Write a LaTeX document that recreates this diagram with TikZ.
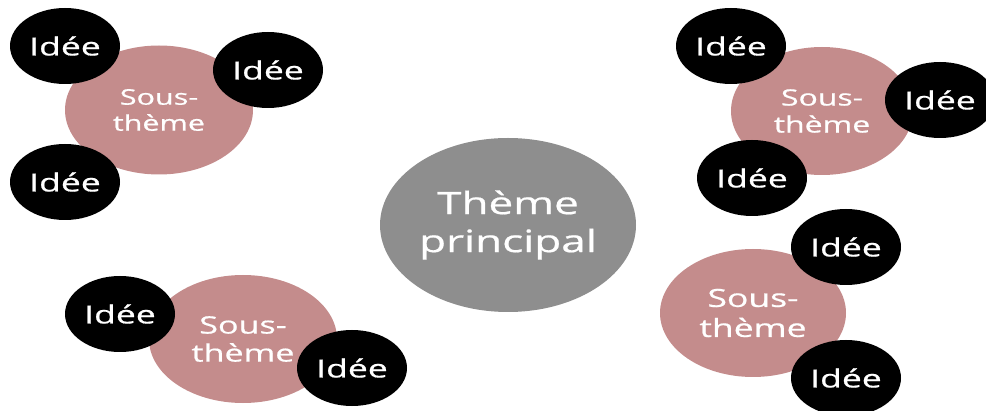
\documentclass[tikz,border=0pt]{standalone}
\usepackage{fontspec}
\setmainfont{Open Sans}[FakeBold=0.6]
\usetikzlibrary{shapes.geometric}
\definecolor{themegray}{HTML}{8E8E8E}
\definecolor{subpink}{HTML}{C48C8C}
% horizontal stretch shared by all labels
\newcommand\wide[1]{\scalebox{1.42}[1]{#1}}
\tikzset{
  bubble/.style={ellipse, inner sep=0pt, text=white, align=center},
  mainbubble/.style={bubble, fill=themegray, minimum width=256pt, minimum height=174pt,
    font=\fontsize{31}{38}\selectfont},
  subbubble/.style={bubble, fill=subpink, minimum width=188pt, minimum height=129pt,
    font=\fontsize{21.5}{26}\selectfont},
  ideabubble/.style={bubble, fill=black, minimum width=110pt, minimum height=76pt,
    font=\fontsize{25}{28}\selectfont},
}
\begin{document}
\begin{tikzpicture}[x=1pt,y=1pt]
  \useasboundingbox (0,0) rectangle (986,410);

  % central theme
  \node[mainbubble] (main) at (508,185) {\wide{Thème}\\\wide{principal}};

  % sub-themes
  \node[subbubble] (st1) at (159,300) {\wide{Sous-}\\\wide{thème}};
  \node[subbubble, minimum width=182pt, minimum height=128pt,
    font=\fontsize{22.5}{27}\selectfont] (st2) at (822,299) {\wide{Sous-}\\\wide{thème}};
  \node[subbubble, minimum height=128pt,
    font=\fontsize{24}{28}\selectfont] (st3) at (243,71) {\wide{Sous-}\\\wide{thème}};
  \node[subbubble, minimum width=186pt, minimum height=128pt,
    font=\fontsize{25}{30}\selectfont] (st4) at (753,97) {\wide{Sous-}\\\wide{thème}};

  % ideas around each sub-theme
  \node[ideabubble] (i11) at (65,364) {\wide{Idée}};
  \node[ideabubble] (i12) at (268,340) {\wide{Idée}};
  \node[ideabubble] (i13) at (65,228) {\wide{Idée}};

  \node[ideabubble] (i21) at (731,364) {\wide{Idée}};
  \node[ideabubble] (i22) at (940,310) {\wide{Idée}};
  \node[ideabubble] (i23) at (752,232) {\wide{Idée}};

  \node[ideabubble] (i31) at (120,96) {\wide{Idée}};
  \node[ideabubble] (i32) at (352,42) {\wide{Idée}};

  \node[ideabubble] (i41) at (846,163) {\wide{Idée}};
  \node[ideabubble] (i42) at (846,32) {\wide{Idée}};
\end{tikzpicture}
\end{document}
